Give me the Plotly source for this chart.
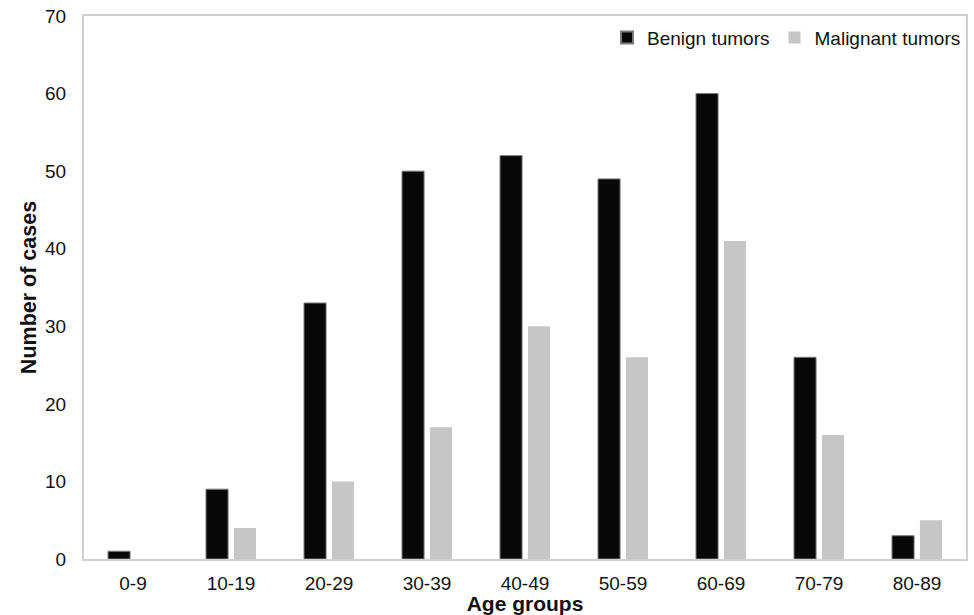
import plotly.graph_objects as go

categories = ["0-9", "10-19", "20-29", "30-39", "40-49", "50-59", "60-69", "70-79", "80-89"]
benign = [1, 9, 33, 50, 52, 49, 60, 26, 3]
malignant = [0, 4, 10, 17, 30, 26, 41, 16, 5]
y_ticks = [0, 10, 20, 30, 40, 50, 60, 70]

font = "Liberation Sans, Arial, sans-serif"

fig = go.Figure()
fig.add_trace(go.Bar(x=categories, y=benign, name="Benign tumors",
                     marker=dict(color="#080808", line=dict(color="#7a7a7a", width=1))))
fig.add_trace(go.Bar(x=categories, y=malignant, name="Malignant tumors",
                     marker=dict(color="#c6c6c6", line=dict(width=0))))

fig.update_layout(
    width=974, height=615,
    margin=dict(l=84, r=8, t=16, b=56),
    paper_bgcolor="white", plot_bgcolor="white",
    barmode="group", bargap=0.43, bargroupgap=0.21,
    font=dict(family=font, size=19, color="#111"),
    legend=dict(orientation="h", x=1.0, xanchor="right", y=0.995, yanchor="top",
                font=dict(size=19, color="#111"), bgcolor="rgba(0,0,0,0)",
                itemwidth=30, itemsizing="constant", traceorder="normal"),
    showlegend=True,
)
fig.update_xaxes(showline=True, linecolor="#d0d0d0", linewidth=2, mirror=True,
                 ticks="", showgrid=False, automargin=False,
                 tickfont=dict(size=19), ticklabelstandoff=6,
                 title=dict(text="<b>Age groups</b>", font=dict(size=21), standoff=4))
fig.update_yaxes(range=[0, 70], tickvals=y_ticks, showline=True, linecolor="#d0d0d0",
                 linewidth=2, mirror=True, ticks="", showgrid=False, zeroline=False,
                 automargin=False, tickfont=dict(size=19),
                 ticklabelstandoff=12,
                 title=dict(text="<b>Number of cases</b>", font=dict(size=21.5), standoff=3))

fig.write_html("out.html", config={"displayModeBar": False},
               post_script="document.body.style.margin='0px';document.body.style.overflow='hidden';")
